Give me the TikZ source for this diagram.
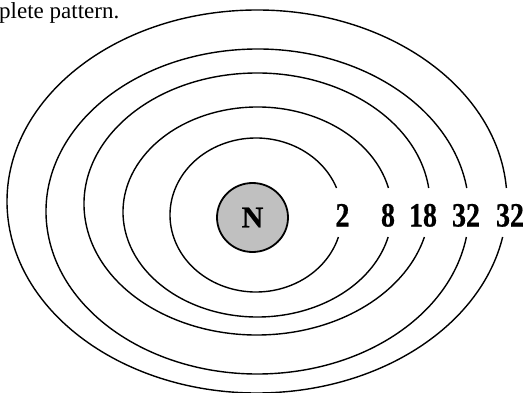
\documentclass[tikz,border=0pt]{standalone}
\usepackage{fontspec}
\setmainfont{Liberation Serif}
\newfontfamily\heavyfont[FakeBold=0.6]{Liberation Serif Bold}
\usepackage{graphicx}
\usetikzlibrary{shapes.geometric}
\definecolor{nucfill}{RGB}{192,192,192}
\tikzset{
  orbit/.style={line width=1.4pt, draw=black},
  nucleus/.style={ellipse, draw=black, line width=1.8pt, fill=nucfill, minimum width=71pt, minimum height=69pt, inner sep=0pt, font=\fontsize{30}{30}\selectfont\heavyfont},
  shellnum/.style={anchor=base, inner sep=0pt, font=\fontsize{34}{34}\selectfont\heavyfont},
  captext/.style={anchor=base west, inner sep=0pt, font=\fontsize{23}{23}\selectfont}
}
\begin{document}
\begin{tikzpicture}[x=1pt, y=1pt]
\useasboundingbox (0,0) rectangle (527,392);
\clip (0,0) rectangle (527,392);
% orbits: cx / cy (image, y down) / rx / ry
\foreach \cx/\cy/\rx/\ry in {256/215/86/77, 257.5/212/134.5/105, 257/204/173/131, 257.5/211.5/211.5/162.5, 257/201.5/250/191.5}{
  \draw[orbit] ({\cx+\rx*cos(asin((\cy-188)/\ry))}, 204)
    arc[start angle={asin((\cy-188)/\ry)}, end angle={360+asin((\cy-237)/\ry)}, x radius={\rx*1pt}, y radius={\ry*1pt}];
}
\node[nucleus] (N) at (252.5,174.5) {N};
\node[shellnum] (s1) at (342.5,165.5) {\scalebox{0.82}[1]{2}};
\node[shellnum] (s2) at (388,165.5) {\scalebox{0.82}[1]{8}};
\node[shellnum] (s3) at (423,165.5) {\scalebox{0.82}[1]{18}};
\node[shellnum] (s4) at (466,165.5) {\scalebox{0.82}[1]{32}};
\node[shellnum] (s5) at (510,165.5) {\scalebox{0.82}[1]{32}};
\node[captext] (cap) at (-1,373.7) {plete pattern.};
\end{tikzpicture}
\end{document}
